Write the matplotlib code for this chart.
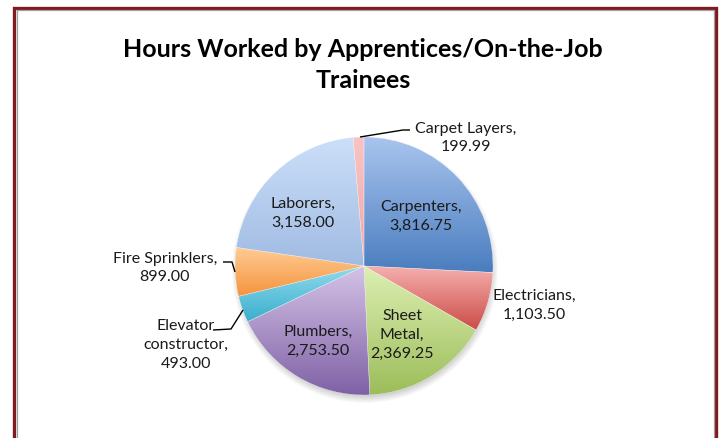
import numpy as np
import matplotlib
matplotlib.use("Agg")
import matplotlib.pyplot as plt
from matplotlib.colors import LinearSegmentedColormap
from matplotlib.patches import Circle

plt.rcParams['font.family'] = ['Lato', 'DejaVu Sans']

# ---- data ----
categories = ["Carpenters", "Electricians", "Sheet Metal", "Plumbers",
              "Elevator constructor", "Fire Sprinklers", "Laborers", "Carpet Layers"]
hours = [3816.75, 1103.50, 2369.25, 2753.50, 493.00, 899.00, 3158.00, 199.99]
label_texts = ["Carpenters,\n3,816.75", "Electricians,\n1,103.50", "Sheet\nMetal,\n2,369.25",
               "Plumbers,\n2,753.50", "Elevator\nconstructor,\n493.00", "Fire Sprinklers,\n899.00",
               "Laborers,\n3,158.00", "Carpet Layers,\n199.99"]
title = "Hours Worked by Apprentices/On-the-Job\nTrainees"

# gradient colors (top, bottom)
grad_colors = [("#AAC5EE", "#4A7DBF"), ("#F5B0AE", "#CC4B47"), ("#DDEFB2", "#9CBD5A"),
               ("#D4C3E7", "#7F61A5"), ("#90DAEF", "#3AAECB"), ("#FFCC95", "#F5943C"),
               ("#CCDFF9", "#A0BBE2"), ("#F8C4C3", "#F0A8A7")]

W, H = 724, 438
fig = plt.figure(figsize=(W / 100, H / 100), dpi=100)
ax = fig.add_axes([0, 0, 1, 1])
ax.set_xlim(0, W)
ax.set_ylim(0, H)
ax.axis('off')

cx, cy, R = 364, H - 266, 129

# shadow
for k in range(8):
    ax.add_patch(Circle((cx + 1, cy - 4), R + 4 - k, facecolor='black', edgecolor='none',
                        alpha=0.025, zorder=1))

wedges, _ = ax.pie(hours, center=(cx, cy), radius=R, startangle=90, counterclock=False,
                   frame=True, wedgeprops=dict(edgecolor=(1, 1, 1, 0.6), linewidth=0.3))
ax.set_xlim(0, W)
ax.set_ylim(0, H)
ax.set_aspect('equal')
ax.axis('off')

for w, (ct, cb) in zip(wedges, grad_colors):
    t1, t2 = np.radians(w.theta1), np.radians(w.theta2)
    ts = np.linspace(t1, t2, 100)
    ys = np.concatenate([cy + R * np.sin(ts), [cy]])
    xs = np.concatenate([cx + R * np.cos(ts), [cx]])
    cmap = LinearSegmentedColormap.from_list('g', [cb, ct])
    grad = np.linspace(0, 1, 256).reshape(-1, 1)
    w.set_facecolor('none')
    w.set_zorder(3)
    im = ax.imshow(grad, cmap=cmap, origin='lower', aspect='auto',
                   extent=[xs.min(), xs.max(), ys.min(), ys.max()], zorder=2,
                   interpolation='bilinear')
    im.set_clip_path(w)

ax.set_xlim(0, W)
ax.set_ylim(0, H)

fs = 11.5
ls = 1.45
# label block centres (pixels from top-left)
label_pos = {0: (421, 216), 2: (402, 335), 3: (318, 341), 6: (303, 213),
             1: (534, 305), 7: (466, 138), 5: (165, 268), 4: (186, 345)}
for i, (x, y) in label_pos.items():
    ax.text(x, H - y, label_texts[i], ha='center', va='center', fontsize=fs,
            linespacing=ls, zorder=5, color='#1a1a1a')

# leader lines
def leader(pts):
    xs = [p[0] for p in pts]
    ys = [H - p[1] for p in pts]
    ax.plot(xs, ys, color='black', lw=1.0, zorder=6, solid_capstyle='butt')

leader([(360, 137), (403, 130), (410, 130)])
leader([(223, 262), (232, 262), (235, 272)])
leader([(213, 330), (231, 329), (243, 310)])

ax.text(W / 2 + 1, H - 65, title, ha='center', va='center', fontsize=18,
        fontweight='bold', linespacing=1.38, zorder=5)

# frame
ax.plot([14, 14, 716, 716], [0, H - 7.5, H - 7.5, 0], color='#7E1A20', lw=2.4, zorder=7,
        solid_joinstyle='miter')
ax.plot([16.5, 16.5, 713.5, 713.5], [0, H - 10, H - 10, 0], color='#A0A0A0', lw=0.9, zorder=7,
        solid_joinstyle='miter')

fig.savefig('out.png', dpi=100)
